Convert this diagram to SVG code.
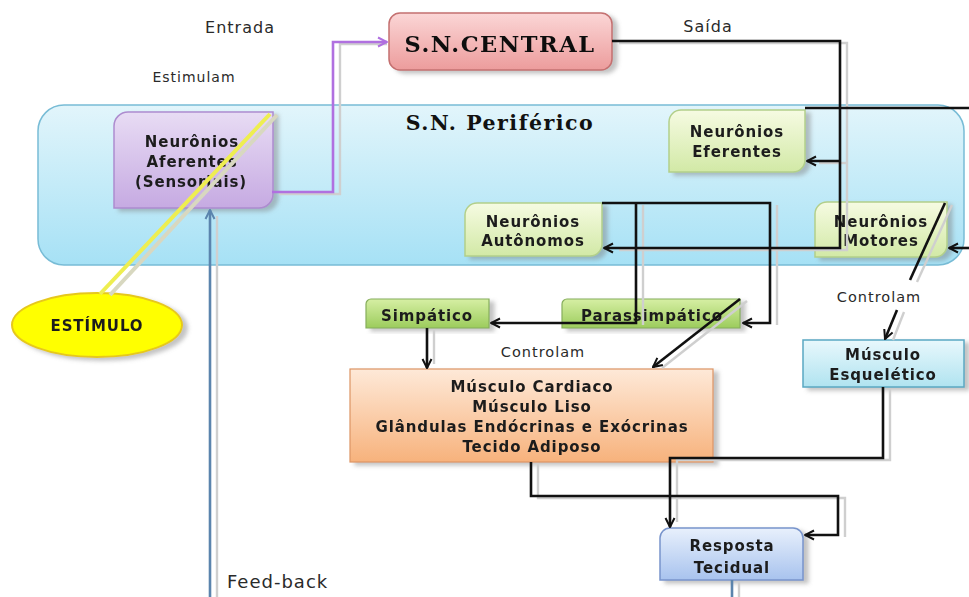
<svg xmlns="http://www.w3.org/2000/svg" width="969" height="597" viewBox="0 0 969 597">
<defs>
<style>
.nb{font-family:"DejaVu Sans",Verdana,sans-serif;font-weight:bold;font-size:15px;fill:#1e1e1e;text-anchor:middle;letter-spacing:0.9px}
.lb{font-family:"DejaVu Sans",Verdana,sans-serif;fill:#2a2a2a;letter-spacing:1px}
.sf{font-family:"DejaVu Serif","Liberation Serif",serif;font-weight:bold;fill:#111}
.cn{fill:none;stroke:#111;stroke-width:2.6}
.sh{fill:none;stroke:#cfcfcf;stroke-width:2.4}
</style>
<linearGradient id="gC" x1="0" y1="0" x2="0" y2="1"><stop offset="0" stop-color="#fbd6d6"/><stop offset="1" stop-color="#ec9c9c"/></linearGradient>
<linearGradient id="gP" x1="0" y1="0" x2="0" y2="1"><stop offset="0" stop-color="#e2f5fb"/><stop offset="1" stop-color="#a6e1f5"/></linearGradient>
<linearGradient id="gA" x1="0" y1="0" x2="0" y2="1"><stop offset="0" stop-color="#e8dcf4"/><stop offset="1" stop-color="#c6aae2"/></linearGradient>
<linearGradient id="gL" x1="0" y1="0" x2="0" y2="1"><stop offset="0" stop-color="#f6fbe2"/><stop offset="1" stop-color="#d2e9a6"/></linearGradient>
<linearGradient id="gG" x1="0" y1="0" x2="0" y2="1"><stop offset="0" stop-color="#d6efa4"/><stop offset="1" stop-color="#9ccc5c"/></linearGradient>
<linearGradient id="gO" x1="0" y1="0" x2="0" y2="1"><stop offset="0" stop-color="#fee9d8"/><stop offset="1" stop-color="#f7b27c"/></linearGradient>
<linearGradient id="gE" x1="0" y1="0" x2="0" y2="1"><stop offset="0" stop-color="#e8f8fc"/><stop offset="1" stop-color="#b0e3f0"/></linearGradient>
<linearGradient id="gR" x1="0" y1="0" x2="0" y2="1"><stop offset="0" stop-color="#e8f0fc"/><stop offset="1" stop-color="#a8c3ee"/></linearGradient>
<filter id="ds" x="-10%" y="-10%" width="125%" height="130%"><feDropShadow dx="5" dy="3" stdDeviation="2" flood-color="#7a7a7a" flood-opacity="0.45"/></filter>
<marker id="ak" viewBox="0 0 12 12" refX="11" refY="6" markerWidth="12" markerHeight="12" markerUnits="userSpaceOnUse" orient="auto"><path d="M2,1.5 L11,6 L2,10.5" fill="none" stroke="#111" stroke-width="2"/></marker>
<marker id="ap" viewBox="0 0 12 12" refX="11" refY="6" markerWidth="12" markerHeight="12" markerUnits="userSpaceOnUse" orient="auto"><path d="M2,1.5 L11,6 L2,10.5" fill="none" stroke="#b070e0" stroke-width="2"/></marker>
<marker id="ab" viewBox="0 0 12 12" refX="11" refY="6" markerWidth="12" markerHeight="12" markerUnits="userSpaceOnUse" orient="auto"><path d="M2,1.5 L11,6 L2,10.5" fill="none" stroke="#5b84ad" stroke-width="2"/></marker>
</defs>

<rect width="969" height="597" fill="#ffffff"/>

<g id="labels">
<text class="lb" x="240" y="33" font-size="16" text-anchor="middle">Entrada</text>
<text class="lb" x="194" y="82" font-size="14" text-anchor="middle">Estimulam</text>
<text class="lb" x="708" y="32" font-size="16" text-anchor="middle">Saída</text>
<text class="lb" x="543" y="357" font-size="14.5" text-anchor="middle">Controlam</text>
<text class="lb" x="879" y="302" font-size="14.5" text-anchor="middle">Controlam</text>
<text class="lb" x="227" y="588" font-size="18">Feed-back</text>
</g>

<g id="sn-periferico">
<rect x="38" y="105" width="926" height="160" rx="26" fill="url(#gP)" stroke="#78bcd6" stroke-width="1.5"/>
<text class="sf" x="500" y="130" font-size="20.5" letter-spacing="1.5" text-anchor="middle">S.N. Periférico</text>
</g>

<g id="sn-central" filter="url(#ds)">
<rect x="389" y="13" width="223" height="57" rx="11" fill="url(#gC)" stroke="#c47070" stroke-width="1.5"/>
<text class="sf" x="500" y="52" font-size="22.5" letter-spacing="1.5" text-anchor="middle">S.N.CENTRAL</text>
</g>

<g id="aferentes" filter="url(#ds)">
<path d="M128,112 H273 V194 A14,14 0 0 1 259,208 H114 V126 A14,14 0 0 1 128,112 Z" fill="url(#gA)" stroke="#ad8ccf" stroke-width="1.5"/>
<text class="nb" x="192" y="147">Neurônios</text>
<text class="nb" x="192" y="167">Aferentes</text>
<text class="nb" x="191" y="187">(Sensoriais)</text>
</g>

<g id="eferentes" filter="url(#ds)">
<path d="M681,110 H805 V160 A12,12 0 0 1 793,172 H669 V122 A12,12 0 0 1 681,110 Z" fill="url(#gL)" stroke="#b2cf8a" stroke-width="1.5"/>
<text class="nb" x="737" y="137">Neurônios</text>
<text class="nb" x="737" y="157">Eferentes</text>
</g>

<g id="autonomos" filter="url(#ds)">
<path d="M477,203 H602 V244 A12,12 0 0 1 590,256 H465 V215 A12,12 0 0 1 477,203 Z" fill="url(#gL)" stroke="#b2cf8a" stroke-width="1.5"/>
<text class="nb" x="533" y="227">Neurônios</text>
<text class="nb" x="533" y="246">Autônomos</text>
</g>

<g id="motores" filter="url(#ds)">
<path d="M827,202 H947 V245 A12,12 0 0 1 935,257 H815 V214 A12,12 0 0 1 827,202 Z" fill="url(#gL)" stroke="#b2cf8a" stroke-width="1.5"/>
<text class="nb" x="881" y="227">Neurônios</text>
<text class="nb" x="881" y="246">Motores</text>
</g>

<g id="estimulo" filter="url(#ds)">
<ellipse cx="97" cy="325" rx="85" ry="32" fill="#ffff00" stroke="#e6c81e" stroke-width="2"/>
<text class="nb" x="97" y="331" letter-spacing="1.2">ESTÍMULO</text>
</g>

<g id="simpatico" filter="url(#ds)">
<path d="M371,299 H489 V328 H366 V304 A5,5 0 0 1 371,299 Z" fill="url(#gG)" stroke="#86ae5c" stroke-width="1.2"/>
<text class="nb" x="427" y="321">Simpático</text>
</g>

<g id="parassimpatico" filter="url(#ds)">
<path d="M567,299 H740 V328 H562 V304 A5,5 0 0 1 567,299 Z" fill="url(#gG)" stroke="#86ae5c" stroke-width="1.2"/>
<text class="nb" x="652" y="321">Parassimpático</text>
</g>

<g id="efetores" filter="url(#ds)">
<rect x="350" y="369" width="363" height="93" fill="url(#gO)" stroke="#dc9464" stroke-width="1.2"/>
<text class="nb" x="532" y="392">Músculo Cardiaco</text>
<text class="nb" x="532" y="412">Músculo Liso</text>
<text class="nb" x="532" y="432">Glândulas Endócrinas e Exócrinas</text>
<text class="nb" x="532" y="452">Tecido Adiposo</text>
</g>

<g id="esqueletico" filter="url(#ds)">
<rect x="803" y="340" width="161" height="47" fill="url(#gE)" stroke="#5aa8c2" stroke-width="1.5"/>
<text class="nb" x="883" y="360">Músculo</text>
<text class="nb" x="883" y="380">Esquelético</text>
</g>

<g id="resposta" filter="url(#ds)">
<path d="M670,528 H793 A10,10 0 0 1 803,538 V580 H660 V538 A10,10 0 0 1 670,528 Z" fill="url(#gR)" stroke="#7894cc" stroke-width="1.5"/>
<text class="nb" x="732" y="551" font-size="17.5">Resposta</text>
<text class="nb" x="732" y="573" font-size="17.5">Tecidual</text>
</g>

<g id="connectors">
<g transform="translate(7,2)">
<path class="sh" d="M272,192 H333 V42 H380" stroke="#e2d8ec"/>
<path class="sh" d="M612,41 H840 V248 H612"/>
<path class="sh" d="M840,161 H812"/>
<path class="sh" d="M636,203 V323"/>
<path class="sh" d="M770,203 V323"/>
<path class="sh" d="M531,462 V496 H838 V535"/>
<path class="sh" d="M883,387 V458 H670 V520"/>
<path class="sh" d="M427,328 V362"/>
<path class="sh" d="M210,597 V214"/>
<path class="sh" d="M732,580 V597"/>
<path class="sh" d="M945,203 L910,280"/>
<path class="sh" d="M897,310 L886,338"/>
<path class="sh" d="M740,299 L655,366"/>
</g>
<path d="M104,294 L271,114" fill="none" stroke="#d8d8c0" stroke-width="4" transform="translate(6,1)"/>
<path d="M100,294 L270,114" fill="none" stroke="#eeee50" stroke-width="4"/>
<path d="M272,192 H333 V42 H387" fill="none" stroke="#b070e0" stroke-width="2.6" marker-end="url(#ap)"/>
<path class="cn" d="M612,41 H840 V248 H604" marker-end="url(#ak)"/>
<path class="cn" d="M840,161 H807" marker-end="url(#ak)"/>
<path class="cn" d="M805,108 H969"/>
<path class="cn" d="M969,248 H949" marker-end="url(#ak)"/>
<path class="cn" d="M602,203 H770 V323 H743" marker-end="url(#ak)"/>
<path class="cn" d="M636,203 V323 H491" marker-end="url(#ak)"/>
<path class="cn" d="M740,299 L653,367" marker-end="url(#ak)"/>
<path class="cn" d="M945,203 L910,280"/>
<path class="cn" d="M897,310 L885,339" marker-end="url(#ak)"/>
<path class="cn" d="M427,328 V368" marker-end="url(#ak)"/>
<path class="cn" d="M531,462 V496 H838 V535 H805" marker-end="url(#ak)"/>
<path class="cn" d="M883,387 V458 H670 V527" marker-end="url(#ak)"/>
<path d="M210,597 V210" fill="none" stroke="#5b84ad" stroke-width="2.6" marker-end="url(#ab)"/>
<path d="M732,580 V597" fill="none" stroke="#5b84ad" stroke-width="2.6"/>
</g>
</svg>
